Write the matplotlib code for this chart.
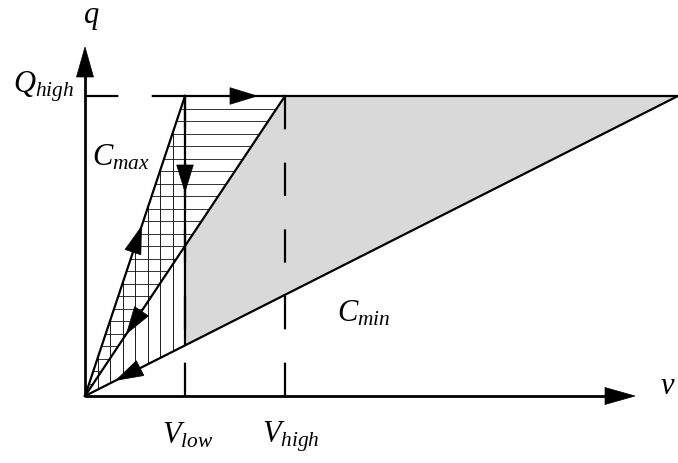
import numpy as np
import matplotlib.pyplot as plt
from matplotlib.patches import Polygon
from matplotlib.collections import LineCollection

plt.rcParams['mathtext.fontset'] = 'custom'
plt.rcParams['mathtext.it'] = 'Liberation Serif:italic'
plt.rcParams['mathtext.rm'] = 'Liberation Serif'

# 数据 (v, q)
v_low = 1.0
v_high = 2.0
q_high = 3.0
v_end = 5.93            # C_min 到达 Q_high 的位置
hatch_step = 0.125

c_max = q_high / v_low
c_mid = q_high / v_high
c_min = q_high / v_end

# 轨迹箭头位置
arrow_up_v = 0.565      # 沿 C_max 向上
arrow_right_v = 1.72    # 沿 Q_high 向右
arrow_down_q = 2.04     # 沿 V_low 向下
arrow_mid_v = 0.415     # 沿中间线返回
arrow_min_v = 0.31      # 沿 C_min 返回

fig = plt.figure(figsize=(6.78, 4.63), dpi=100)
ax = fig.add_axes([0, 0, 1, 1])
ax.set_xlim(-0.85, 5.93)
ax.set_ylim(-0.67, 3.96)
ax.set_aspect('equal')
ax.axis('off')

lw = 1.6
dash = (0, (15, 15))

# 灰色区域
grey = Polygon([(v_low, c_mid * v_low), (v_high, q_high), (v_end, q_high), (v_low, c_min * v_low)],
               closed=True, facecolor='#d9d9d9', edgecolor='none', zorder=1)
ax.add_patch(grey)

# 横线阴影: C_max 与中间线之间
tri_h = Polygon([(0, 0), (v_low, q_high), (v_high, q_high)], closed=True, fill=False, edgecolor='none')
ax.add_patch(tri_h)
qs = np.arange(hatch_step, q_high, hatch_step)
lc = LineCollection([[(0, q), (v_high, q)] for q in qs], colors='0.2', linewidths=0.7, zorder=2)
ax.add_collection(lc)
lc.set_clip_path(tri_h)

# 竖线阴影: C_max 与 C_min 之间 (v < V_low)
tri_v = Polygon([(0, 0), (v_low, q_high), (v_low, c_min * v_low)], closed=True, fill=False, edgecolor='none')
ax.add_patch(tri_v)
vs = np.arange(hatch_step, v_low, hatch_step)
lc2 = LineCollection([[(v, 0), (v, q_high)] for v in vs], colors='0.1', linewidths=0.7, zorder=2)
ax.add_collection(lc2)
lc2.set_clip_path(tri_v)

# 虚线
ax.plot([0, v_low], [q_high, q_high], color='black', lw=lw, ls=dash, zorder=3)
ax.plot([v_low, v_low], [0, q_high], color='black', lw=lw, ls=dash, zorder=3)
ax.plot([v_high, v_high], [0, q_high], color='black', lw=lw, ls=dash, zorder=3)

# 实线
ax.plot([0, v_low], [0, q_high], color='black', lw=lw, zorder=4)
ax.plot([0, v_high], [0, q_high], color='black', lw=lw, zorder=4)
ax.plot([0, v_end], [0, q_high], color='black', lw=lw, zorder=4)
ax.plot([v_low, v_end], [q_high, q_high], color='black', lw=lw, zorder=4)
ax.plot([v_low, v_low], [q_high, c_min * v_low], color='black', lw=lw, zorder=4)


def head(tip, d, length=0.27, half=0.083):
    tip = np.array(tip, dtype=float)
    d = np.array(d, dtype=float)
    d = d / np.hypot(*d)
    n = np.array([-d[1], d[0]])
    base = tip - d * length
    ax.add_patch(Polygon([tip, base + n * half, base - n * half], closed=True,
                         facecolor='black', edgecolor='black', lw=0.5, zorder=5))


# 坐标轴
x_tip = 5.5
y_tip = 3.49
ax.plot([0, x_tip - 0.2], [0, 0], color='black', lw=2.0, zorder=4, solid_capstyle='butt')
ax.plot([0, 0], [0, y_tip - 0.2], color='black', lw=2.0, zorder=4, solid_capstyle='butt')
head((x_tip, 0), (1, 0), length=0.3, half=0.085)
head((0, y_tip), (0, 1), length=0.3, half=0.085)

# 轨迹箭头
head((arrow_up_v, c_max * arrow_up_v), (1, c_max))
head((arrow_right_v, q_high), (1, 0))
head((v_low, arrow_down_q), (0, -1))
head((arrow_mid_v, c_mid * arrow_mid_v), (-1, -c_mid))
head((arrow_min_v, c_min * arrow_min_v), (-1, -c_min))

# 文字
fs = 22
ax.text(0.06, 3.73, r'$q$', ha='center', va='baseline', fontsize=fs)
ax.text(-0.11, 3.03, r'$Q_{high}$', ha='right', va='baseline', fontsize=fs)
ax.text(0.07, 2.31, r'$C_{max}$', ha='left', va='baseline', fontsize=fs)
ax.text(0.77, -0.47, r'$V_{low}$', ha='left', va='baseline', fontsize=fs)
ax.text(1.77, -0.47, r'$V_{high}$', ha='left', va='baseline', fontsize=fs)
ax.text(2.52, 0.74, r'$C_{min}$', ha='left', va='baseline', fontsize=fs)
ax.text(5.75, 0.02, r'$v$', ha='left', va='baseline', fontsize=fs)

fig.savefig('out.png', dpi=100)
